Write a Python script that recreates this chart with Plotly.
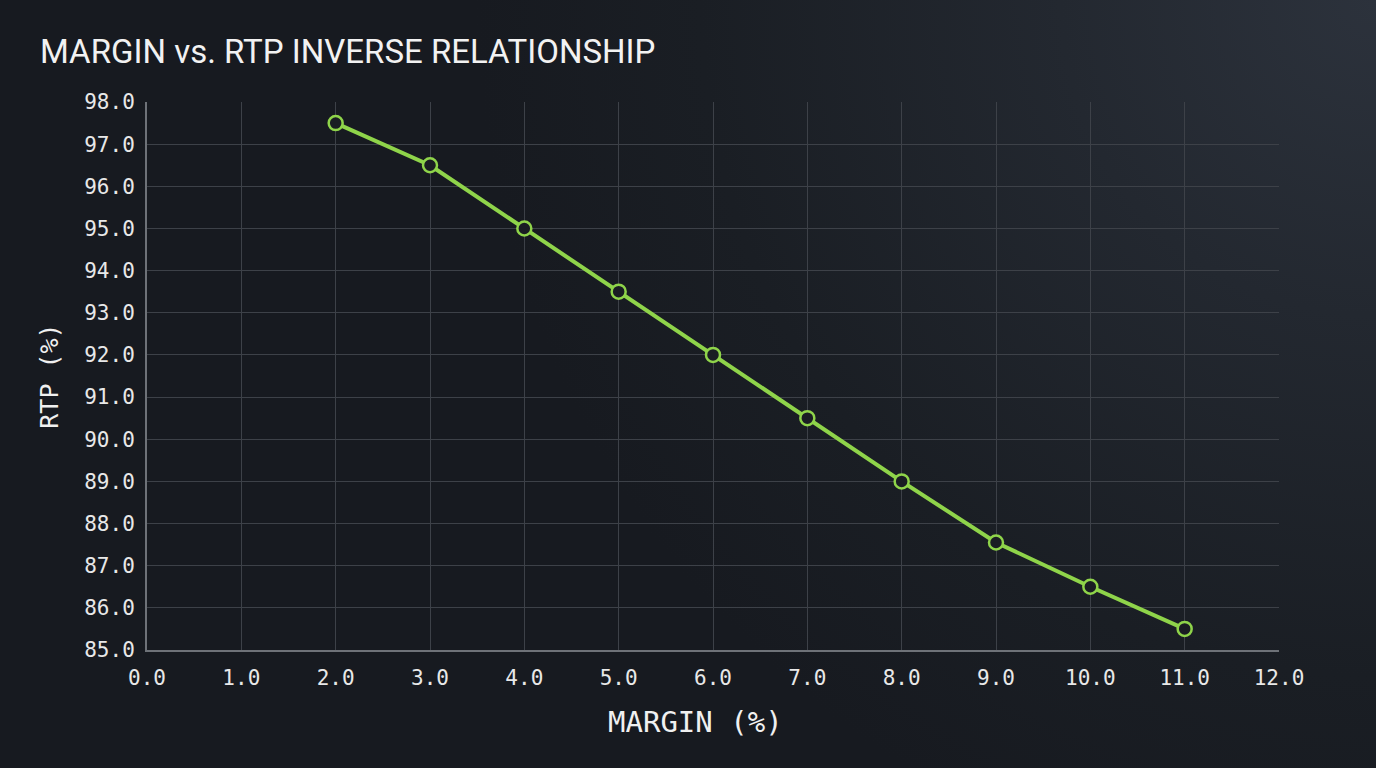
import base64
import plotly.graph_objects as go

margin_pct = [2, 3, 4, 5, 6, 7, 8, 9, 10, 11]
rtp_pct = [97.5, 96.5, 95.0, 93.5, 92.0, 90.5, 89.0, 87.55, 86.5, 85.5]
x_ticks = [0, 1, 2, 3, 4, 5, 6, 7, 8, 9, 10, 11, 12]
y_ticks = [85, 86, 87, 88, 89, 90, 91, 92, 93, 94, 95, 96, 97, 98]

mono = "DejaVu Sans Mono, Liberation Mono, monospace"
sans = "Roboto, Inter, sans-serif"

svg = """<svg xmlns='http://www.w3.org/2000/svg' width='1376' height='768'>
<defs>
<radialGradient id='g' cx='1376' cy='0' r='900' gradientUnits='userSpaceOnUse'>
<stop offset='0' stop-color='#2c323c'/>
<stop offset='0.35' stop-color='#232830'/>
<stop offset='0.75' stop-color='#1a1e24'/>
<stop offset='1' stop-color='#171a20'/>
</radialGradient>
</defs>
<rect width='1376' height='768' fill='#171a20'/>
<rect width='1376' height='768' fill='url(#g)'/>
</svg>"""
bg_src = "data:image/svg+xml;base64," + base64.b64encode(svg.encode()).decode()

fig = go.Figure()
fig.add_trace(go.Scatter(
    x=margin_pct, y=rtp_pct, mode="lines+markers",
    line=dict(color="#8fd44a", width=4),
    marker=dict(symbol="circle", size=14, color="#1a1d23",
                line=dict(color="#8fd44a", width=2.5)),
    showlegend=False,
))

fig.update_layout(
    width=1376, height=768,
    paper_bgcolor="#171a20", plot_bgcolor="rgba(0,0,0,0)",
    margin=dict(l=147, r=97, t=102, b=118),
    images=[dict(source=bg_src, xref="paper", yref="paper",
                 x=-147/1132, y=1+102/548, sizex=1376/1132, sizey=768/548,
                 xanchor="left", yanchor="top", sizing="stretch", layer="below")],
    title=dict(text="MARGIN vs. RTP INVERSE RELATIONSHIP", x=40/1376, xanchor="left",
               y=1-51/768, yanchor="middle",
               font=dict(family=sans, size=33, color="#f2f2f2")),
    xaxis=dict(range=[0, 12], tickvals=x_ticks, tickformat=".1f",
               showgrid=True, gridcolor="#3d4148", gridwidth=1,
               showline=True, linecolor="#6e7278", linewidth=2,
               zeroline=False, ticks="",
               tickfont=dict(family=mono, size=21, color="#e8e8e8")),
    yaxis=dict(range=[85, 98], tickvals=y_ticks, tickformat=".1f",
               showgrid=True, gridcolor="#3d4148", gridwidth=1,
               showline=True, linecolor="#6e7278", linewidth=2,
               zeroline=False, ticks="",
               tickfont=dict(family=mono, size=21, color="#e8e8e8"),
               title=dict(text="RTP (%)", font=dict(family=mono, size=25, color="#f0f0f0"), standoff=18)),
    annotations=[dict(text="MARGIN (%)", xref="paper", yref="paper",
                      x=(695-147)/1132, y=-(722-650)/548, xanchor="center", yanchor="middle",
                      showarrow=False, font=dict(family=mono, size=29, color="#f0f0f0"))],
)
fig.update_xaxes(ticklabelstandoff=8)
fig.update_yaxes(ticklabelstandoff=6)
fig.write_html("out.html")
